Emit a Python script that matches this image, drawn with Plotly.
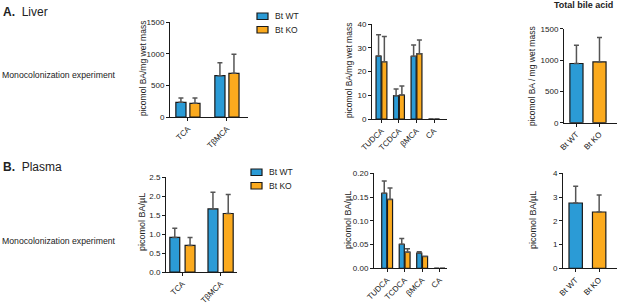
import plotly.graph_objects as go

W, H = 617, 307

# ---------------- data ----------------
liver_main_cats = ["TCA", "TβMCA"]
liver_main_wt = [233, 654]
liver_main_wt_err = [68, 206]
liver_main_ko = [217, 692]
liver_main_ko_err = [84, 300]

liver_minor_cats = ["TUDCA", "TCDCA", "βMCA", "CA"]
liver_minor_wt = [26.5, 9.8, 26.4, 0]
liver_minor_wt_err = [9.0, 2.8, 4.8, 0]
liver_minor_ko = [24.1, 10.1, 27.5, 0]
liver_minor_ko_err = [10.6, 3.8, 5.8, 0]

total_cats = ["Bt WT", "Bt KO"]
liver_total = [945, 970]
liver_total_err = [290, 390]

plasma_main_wt = [0.91, 1.66]
plasma_main_wt_err = [0.24, 0.44]
plasma_main_ko = [0.70, 1.54]
plasma_main_ko_err = [0.21, 0.50]

plasma_minor_wt = [0.158, 0.0505, 0.032, 0]
plasma_minor_wt_err = [0.026, 0.0125, 0.003, 0]
plasma_minor_ko = [0.145, 0.034, 0.025, 0]
plasma_minor_ko_err = [0.024, 0.007, 0.0, 0]

plasma_total = [2.75, 2.37]
plasma_total_err = [0.70, 0.72]

liver_yticks = [0, 500, 1000, 1500]
liver_minor_yticks = [0, 10, 20, 30, 40]
plasma_yticks = [0, 0.5, 1.0, 1.5, 2.0, 2.5]
plasma_minor_yticks = [0, 0.05, 0.10, 0.15, 0.20]
plasma_total_yticks = [0, 1, 2, 3, 4]

BLUE = "#2B9BD6"
ORANGE = "#FBAA1E"
EDGE = "#1a1a1a"
ERR = "#555555"
FONT = "Liberation Sans, Arial, sans-serif"

fig = go.Figure()


def px_x(a, b):
    return [a / W, b / W]


def px_y(top, bottom):
    return [1 - bottom / H, 1 - top / H]


def add_bar(xs, ys, errs, color, xa, ya, width, offset=None):
    kw = dict(offset=offset) if offset is not None else {}
    fig.add_trace(go.Bar(
        x=xs, y=ys, xaxis=xa, yaxis=ya, width=width,
        marker=dict(color=color, line=dict(color=EDGE, width=1.2)),
        error_y=dict(type="data", symmetric=False, array=errs,
                     arrayminus=[0] * len(errs), color=ERR,
                     thickness=1.5, width=2.5),
        showlegend=False, **kw))


# panel definitions: (axis suffix, xdom px, ydom px, xrange, yrange, ticks, tickformat)
panels = [
    ("", (170, 248), (22.3, 117), [-0.46, 1.54], [0, 1500], liver_yticks, None),
    ("2", (372, 447), (24, 119), [-0.54, 3.74], [0, 40], liver_minor_yticks, None),
    ("3", (564, 617), (28.7, 122.7), [-0.54, 1.76], [0, 1500], liver_yticks, None),
    ("4", (166, 237), (177, 272), [-0.43, 1.43], [0, 2.5], plasma_yticks, ".1f"),
    ("5", (374, 447), (173.3, 268.3), [-0.75, 3.42], [0, 0.2], plasma_minor_yticks, ".2f"),
    ("6", (563, 617), (173.3, 268.3), [-0.54, 1.76], [0, 4], plasma_total_yticks, None),
]

# Liver
add_bar(liver_main_cats, liver_main_wt, liver_main_wt_err, BLUE, "x", "y", 0.26, -0.31)
add_bar(liver_main_cats, liver_main_ko, liver_main_ko_err, ORANGE, "x", "y", 0.26, 0.05)
add_bar(liver_minor_cats, liver_minor_wt, liver_minor_wt_err, BLUE, "x2", "y2", 0.29, -0.31)
add_bar(liver_minor_cats, liver_minor_ko, liver_minor_ko_err, ORANGE, "x2", "y2", 0.29, 0.02)
fig.add_trace(go.Bar(
    x=total_cats, y=liver_total, xaxis="x3", yaxis="y3", width=0.57,
    marker=dict(color=[BLUE, ORANGE], line=dict(color=EDGE, width=1.2)),
    error_y=dict(type="data", symmetric=False, array=liver_total_err,
                 arrayminus=[0, 0], color=ERR, thickness=1.5, width=2.5),
    showlegend=False))

# Plasma
add_bar(liver_main_cats, plasma_main_wt, plasma_main_wt_err, BLUE, "x4", "y4", 0.26, -0.33)
add_bar(liver_main_cats, plasma_main_ko, plasma_main_ko_err, ORANGE, "x4", "y4", 0.26, 0.07)
add_bar(liver_minor_cats, plasma_minor_wt, plasma_minor_wt_err, BLUE, "x5", "y5", 0.29, -0.31)
add_bar(liver_minor_cats, plasma_minor_ko, plasma_minor_ko_err, ORANGE, "x5", "y5", 0.29, 0.02)
fig.add_trace(go.Bar(
    x=total_cats, y=plasma_total, xaxis="x6", yaxis="y6", width=0.57,
    marker=dict(color=[BLUE, ORANGE], line=dict(color=EDGE, width=1.2)),
    error_y=dict(type="data", symmetric=False, array=plasma_total_err,
                 arrayminus=[0, 0], color=ERR, thickness=1.5, width=2.5),
    showlegend=False))

layout = dict(
    width=W, height=H, margin=dict(l=0, r=0, t=0, b=0, autoexpand=False),
    paper_bgcolor="white", plot_bgcolor="white",
    barmode="overlay", font=dict(family=FONT, size=8, color="#222"),
)
for suf, (xa, xb), (yt, yb), xr, yr, ticks, fmt in panels:
    layout["xaxis" + suf] = dict(
        domain=px_x(xa, xb), anchor="y" + suf, range=xr, type="category",
        showline=True, linecolor=EDGE, linewidth=1, ticks="outside",
        ticklen=3, tickcolor=EDGE, tickangle=-45, showgrid=False,
        zeroline=False, tickfont=dict(size=8, family=FONT, color="#222"),
        fixedrange=True, automargin=False)
    yd = dict(
        domain=px_y(yt, yb), anchor="x" + suf, range=yr, tickvals=ticks,
        showline=True, linecolor=EDGE, linewidth=1, ticks="outside",
        ticklen=3, tickcolor=EDGE, showgrid=False, zeroline=False,
        tickfont=dict(size=8, family=FONT, color="#222"), fixedrange=True,
        automargin=False)
    if fmt:
        yd["tickformat"] = fmt
    layout["yaxis" + suf] = yd
fig.update_layout(**layout)

annotations = []


def text(x, y, s, size=9, angle=0, xanchor="center"):
    annotations.append(dict(
        x=x / W, y=1 - y / H, xref="paper", yref="paper", text=s,
        showarrow=False, textangle=angle, xanchor=xanchor, yanchor="middle",
        font=dict(size=size, family=FONT, color="#222")))


text(1, 12, "<b>A.</b>  Liver", size=12, xanchor="left")
text(1, 167, "<b>B.</b>  Plasma", size=12, xanchor="left")
text(0, 75, "Monocolonization experiment", size=8.7, xanchor="left")
text(0, 241, "Monocolonization experiment", size=8.7, xanchor="left")
text(583, 5, "<b>Total bile acid</b>", size=9)

text(143, 69, "picomol BA/mg wet mass", size=8.5, angle=-90)
text(349, 71, "picomol BA/mg wet mass", size=8.5, angle=-90)
text(532, 76, "picomol BA / mg wet mass", size=8.5, angle=-90)
text(142, 222, "picomol BA/µL", size=9, angle=-90)
text(348, 220, "picomol BA/µL", size=9, angle=-90)
text(533, 220, "picomol BA/µL", size=9, angle=-90)

shapes = []
for (bx, by) in [(257, 13), (251, 169)]:
    for i, (c, lab) in enumerate([(BLUE, "Bt WT"), (ORANGE, "Bt KO")]):
        y0 = by + i * 13.5
        shapes.append(dict(type="rect", xref="paper", yref="paper",
                           x0=bx / W, x1=(bx + 11) / W,
                           y0=1 - (y0 + 6.5) / H, y1=1 - y0 / H,
                           fillcolor=c, line=dict(color=EDGE, width=1.2)))
        text(bx + 16, y0 + 3.3, lab, size=8.5, xanchor="left")

fig.update_layout(annotations=annotations, shapes=shapes)
fig.write_html(
    "out.html",
    config={"displayModeBar": False},
    post_script="document.body.style.margin='0';document.body.style.overflow='hidden';",
)
